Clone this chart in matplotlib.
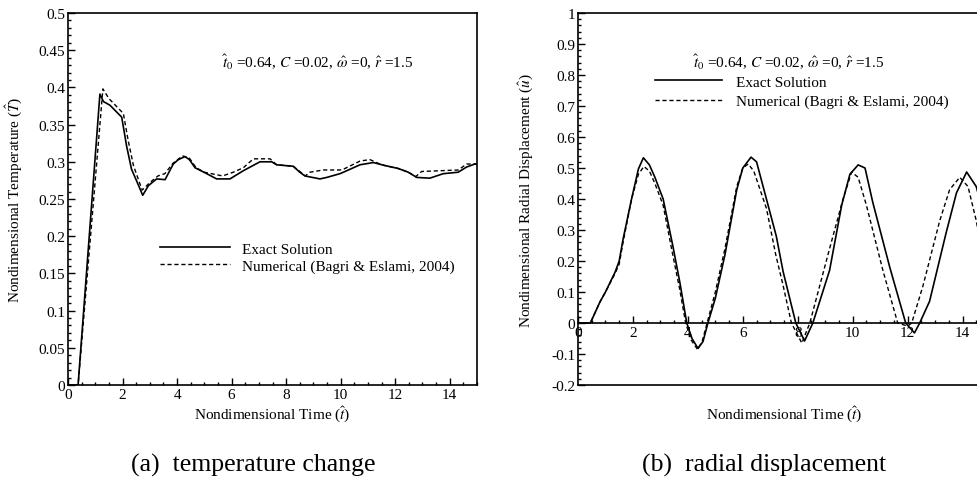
import matplotlib
matplotlib.use('Agg')
import matplotlib.pyplot as plt
from matplotlib.ticker import MultipleLocator

plt.rcParams['font.family'] = 'serif'
plt.rcParams['font.serif'] = ['Liberation Serif', 'DejaVu Serif']
plt.rcParams['mathtext.fontset'] = 'stix'

# (a) temperature change
t_T_exact = [0, 0.37, 1.17, 1.3, 1.54, 1.97, 2.15, 2.33, 2.52, 2.74, 2.95, 3.25, 3.56, 3.86,
             4.05, 4.29, 4.45, 4.66, 5.09, 5.45, 5.94, 6.43, 7.04, 7.47, 7.65, 8.26, 8.5,
             8.69, 9.24, 9.49, 9.97, 10.1, 10.71, 11.2, 11.62, 12.11, 12.48, 12.79, 13.27,
             13.76, 14.31, 14.62, 14.92, 15]
T_exact = [0, 0, 0.391, 0.381, 0.376, 0.360, 0.321, 0.290, 0.274, 0.255, 0.268, 0.277, 0.276,
           0.297, 0.303, 0.307, 0.303, 0.292, 0.284, 0.277, 0.277, 0.288, 0.300, 0.300, 0.296,
           0.294, 0.286, 0.281, 0.277, 0.279, 0.284, 0.286, 0.296, 0.299, 0.295, 0.291, 0.286,
           0.279, 0.278, 0.284, 0.286, 0.293, 0.297, 0.297]

t_T_num = [0, 0.37, 1.28, 1.5, 2.03, 2.2, 2.4, 2.72, 3.0, 3.3, 3.55, 3.85, 4.2, 4.45, 4.7,
           5.0, 5.67, 6.06, 6.43, 6.8, 7.41, 7.65, 8.26, 8.5, 8.7, 8.87, 9.36, 9.97, 10.1,
           10.71, 11.07, 11.5, 12.11, 12.48, 12.75, 12.97, 13.64, 14.31, 14.62, 14.92, 15]
T_num = [0, 0, 0.398, 0.385, 0.365, 0.330, 0.295, 0.262, 0.272, 0.281, 0.284, 0.298, 0.308,
         0.305, 0.292, 0.286, 0.281, 0.286, 0.292, 0.304, 0.304, 0.296, 0.294, 0.287, 0.281,
         0.286, 0.289, 0.289, 0.290, 0.301, 0.303, 0.296, 0.291, 0.286, 0.280, 0.287, 0.288,
         0.289, 0.297, 0.297, 0.297]

# (b) radial displacement
t_u_exact = [0, 0.45, 0.8, 1.0, 1.35, 1.5, 1.64, 1.95, 2.2, 2.38, 2.6, 2.8, 3.1, 3.45, 3.71,
             3.96, 4.15, 4.37, 4.55, 4.73, 5.0, 5.35, 5.78, 6.0, 6.3, 6.5, 6.86, 7.22, 7.47,
             7.93, 8.25, 8.55, 9.16, 9.6, 9.9, 10.2, 10.45, 10.73, 11.35, 11.93, 12.25, 12.44,
             12.8, 13.4, 13.78, 14.15, 14.5, 14.8, 15]
u_exact = [0, 0, 0.068, 0.10, 0.164, 0.2, 0.27, 0.40, 0.497, 0.533, 0.51, 0.47, 0.40, 0.25,
           0.13, 0, -0.05, -0.082, -0.06, 0, 0.08, 0.22, 0.43, 0.50, 0.535, 0.52, 0.40, 0.28,
           0.165, 0, -0.058, 0, 0.17, 0.38, 0.48, 0.51, 0.50, 0.39, 0.18, 0, -0.032, 0, 0.07,
           0.29, 0.42, 0.487, 0.44, 0.34, 0.25]

t_u_num = [0, 0.45, 0.8, 1.0, 1.35, 1.5, 1.64, 1.95, 2.2, 2.4, 2.6, 2.8, 3.1, 3.45, 3.7, 3.92,
           4.12, 4.35, 4.52, 4.7, 5.0, 5.35, 5.78, 6.0, 6.2, 6.4, 6.86, 7.2, 7.47, 7.77, 8.15,
           8.44, 9.16, 9.65, 9.96, 10.2, 10.5, 11.1, 11.64, 12.0, 12.15, 12.56, 13.17, 13.53,
           13.9, 14.2, 14.5, 14.8, 15]
u_num = [0, 0, 0.068, 0.10, 0.160, 0.19, 0.26, 0.40, 0.48, 0.505, 0.49, 0.45, 0.38, 0.22,
         0.11, 0, -0.055, -0.085, -0.06, 0, 0.10, 0.24, 0.44, 0.50, 0.513, 0.49, 0.37, 0.22,
         0.12, 0, -0.065, 0, 0.24, 0.40, 0.487, 0.47, 0.38, 0.17, 0, -0.01, 0, 0.12, 0.33,
         0.43, 0.47, 0.44, 0.33, 0.18, 0.08]

params_text = r'$\hat{t}_0$ =0.64, $C$ =0.02, $\hat{\omega}$ =0, $\hat{r}$ =1.5'
fs = 11

fig = plt.figure(figsize=(9.77, 4.89), dpi=100)
ax1 = fig.add_axes([68 / 977, 103 / 489, 409 / 977, 372 / 489])
ax2 = fig.add_axes([578 / 977, 103 / 489, 412 / 977, 372 / 489])

dash = (0, (3, 2))

ax1.plot(t_T_exact, T_exact, color='k', lw=1.2, label='Exact Solution')
ax1.plot(t_T_num, T_num, color='k', lw=1.0, linestyle=dash,
         label='Numerical (Bagri & Eslami, 2004)')
ax1.set_xlim(0, 15)
ax1.set_ylim(0, 0.5)
ax1.xaxis.set_major_locator(MultipleLocator(2))
ax1.xaxis.set_minor_locator(MultipleLocator(0.5))
ax1.yaxis.set_minor_locator(MultipleLocator(0.01))
ax1.set_yticks([0, 0.05, 0.1, 0.15, 0.2, 0.25, 0.3, 0.35, 0.4, 0.45, 0.5])
ax1.set_yticklabels(['0', '0.05', '0.1', '0.15', '0.2', '0.25', '0.3', '0.35', '0.4',
                     '0.45', '0.5'])
ax1.set_xlabel(r'Nondimensional Time ($\hat{t}$)', fontsize=fs)
ax1.set_ylabel(r'Nondimensional Temperature ($\hat{T}$)', fontsize=fs)
ax1.xaxis.set_label_coords(0.5, -0.048)
ax1.yaxis.set_label_coords(-0.108, 0.5)
ax1.text(0.609, 0.871, params_text, transform=ax1.transAxes, ha='center', va='center',
         fontsize=fs)
ax1.legend(loc='upper left', bbox_to_anchor=(0.225, 0.384), frameon=False, fontsize=fs,
           handlelength=4.6, handletextpad=0.75, labelspacing=0.2, borderpad=0,
           borderaxespad=0)

ax2.plot(t_u_exact, u_exact, color='k', lw=1.2, label='Exact Solution')
ax2.plot(t_u_num, u_num, color='k', lw=1.0, linestyle=dash,
         label='Numerical (Bagri & Eslami, 2004)')
ax2.set_xlim(0, 15)
ax2.set_ylim(-0.2, 1)
ax2.xaxis.set_minor_locator(MultipleLocator(0.5))
ax2.yaxis.set_minor_locator(MultipleLocator(0.02))
ax2.set_yticks([-0.2, -0.1, 0, 0.1, 0.2, 0.3, 0.4, 0.5, 0.6, 0.7, 0.8, 0.9, 1])
ax2.set_yticklabels(['-0.2', '-0.1', '0', '0.1', '0.2', '0.3', '0.4', '0.5', '0.6', '0.7',
                     '0.8', '0.9', '1'])
ax2.set_xticks([0, 2, 4, 6, 8, 10, 12, 14])
ax2.set_xticklabels(['0', '2', '4', '6', '8', '10', '12', '14'])
ax2.spines['bottom'].set_position(('data', 0))
ax2.plot([0, 1], [0, 0], transform=ax2.transAxes, color='k', lw=1.2, clip_on=False)
ax2.set_xlabel(r'Nondimensional Time ($\hat{t}$)', fontsize=fs)
ax2.set_ylabel(r'Nondimensional Radial Displacement ($\hat{u}$)', fontsize=fs)
ax2.xaxis.set_label_coords(0.5, -0.048)
ax2.yaxis.set_label_coords(-0.105, 0.5)
ax2.text(0.512, 0.871, params_text, transform=ax2.transAxes, ha='center', va='center',
         fontsize=fs)
ax2.legend(loc='upper left', bbox_to_anchor=(0.187, 0.833), frameon=False, fontsize=fs,
           handlelength=4.4, handletextpad=0.9, labelspacing=0.35, borderpad=0,
           borderaxespad=0)

for ax in (ax1, ax2):
    for sp in ax.spines.values():
        sp.set_linewidth(1.2)
    ax.tick_params(which='both', direction='in', top=False, right=False, labelsize=fs,
                   width=1.0, pad=2)
    ax.tick_params(which='major', length=5)
    ax.tick_params(which='minor', length=2.5)

fig.text(253 / 977, 1 - 465 / 489, '(a)  temperature change', ha='center', va='center',
         fontsize=18.5)
fig.text(764 / 977, 1 - 465 / 489, '(b)  radial displacement', ha='center', va='center',
         fontsize=18.5)

fig.savefig('out.png', dpi=100)
